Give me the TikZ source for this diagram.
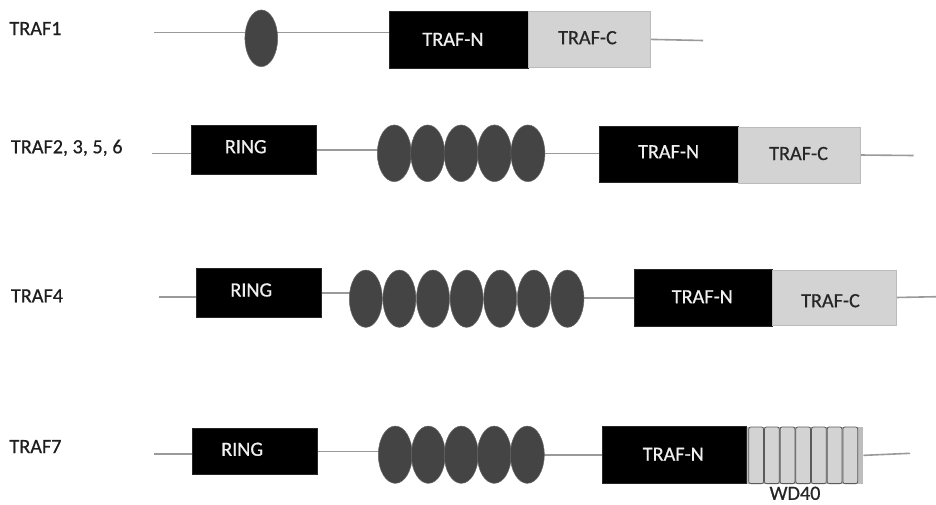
\documentclass[tikz,border=0pt]{standalone}
\usepackage{fontspec}
\setmainfont{Carlito}
\newfontfamily\domainfont{Carlito}[FakeBold=0.6]
\usetikzlibrary{shapes.geometric,backgrounds}

\definecolor{backbone}{HTML}{9A9A9A}
\definecolor{zincfinger}{HTML}{444444}
\definecolor{trafcfill}{HTML}{D3D3D3}
\definecolor{trafcedge}{HTML}{BBBBBB}
\definecolor{wdstrip}{HTML}{BDBDBD}
\definecolor{wdedge}{HTML}{5A5A5A}
\definecolor{labeltext}{HTML}{1E1E1E}

\tikzset{
  every node/.style={inner sep=0pt, outer sep=0pt},
  chain/.style={draw=backbone, line width=1.6pt},
  blackbox/.style={rectangle, draw=black!85, fill=black, line width=0.6pt},
  greybox/.style={rectangle, draw=trafcedge, fill=trafcfill, line width=0.8pt},
  zf/.style={ellipse, draw=zincfinger!80!white, fill=zincfinger, line width=0.5pt},
  wdcell/.style={rectangle, rounded corners=2pt, draw=wdedge, fill=trafcfill, line width=0.8pt},
  txt/.style={font=\domainfont\fontsize{20.2}{24}\selectfont},
  rowlabel/.style={txt, text=labeltext, anchor=base west},
  whitetxt/.style={txt, text=white!94!black, anchor=base},
  darktxt/.style={txt, text=black!85, anchor=base},
}

\begin{document}
\begin{tikzpicture}[x=1pt, y=-1pt]
\useasboundingbox (0,0) rectangle (936,504);

% ---------------- row labels
\node[rowlabel] (l1) at (9.5,35) {TRAF1};
\node[rowlabel] (l2) at (11,153.3) {TRAF2, 3, 5, 6};
\node[rowlabel] (l3) at (11,302.3) {TRAF4};
\node[rowlabel] (l4) at (9.5,453) {TRAF7};

% ---------------- TRAF1
\coordinate (s1) at (154,32.3);
\coordinate (f1) at (703,40.5);
\node[zf, minimum width=32.7, minimum height=56.7] (e11) at (261.3,38.3) {};
\node[blackbox, minimum width=139, minimum height=56.6] (tn1) at (458.8,40) {};
\node[greybox, minimum width=122.4, minimum height=56.7] (tc1) at (589.5,39.4) {};
\node[whitetxt] (tn1t) at (453,45.8) {TRAF-N};
\node[darktxt] (tc1t) at (587.5,44.2) {TRAF-C};

% ---------------- TRAF2, 3, 5, 6
\coordinate (s2) at (151.7,153.3);
\coordinate (f2) at (913.6,155.5);
\node[blackbox, minimum width=125, minimum height=48.6] (r2) at (254.2,150) {};
\foreach \i in {1,...,5}
  \node[zf, minimum width=34, minimum height=56.7] (e2\i) at ({394.3+33.4*(\i-1)},153.3) {};
\node[blackbox, minimum width=138.7, minimum height=56.3] (tn2) at (668.7,154.2) {};
\node[greybox, minimum width=122, minimum height=56] (tc2) at (799,155) {};
\node[whitetxt] (r2t) at (245.8,153.2) {RING};
\node[whitetxt] (tn2t) at (668.6,158.2) {TRAF-N};
\node[darktxt] (tc2t) at (798.6,160) {TRAF-C};

% ---------------- TRAF4
\coordinate (s3) at (159.3,296.7);
\coordinate (f3) at (936,296.7);
\node[blackbox, minimum width=125, minimum height=49] (r3) at (259.2,292.8) {};
\foreach \i in {1,...,7}
  \node[zf, minimum width=33, minimum height=57.3] (e3\i) at ({365.8+33.6*(\i-1)},298.7) {};
\node[blackbox, minimum width=138.4, minimum height=56.5] (tn3) at (703.5,297.8) {};
\node[greybox, minimum width=123.3, minimum height=55] (tc3) at (834.4,297.5) {};
\node[whitetxt] (r3t) at (251.3,296.5) {RING};
\node[whitetxt] (tn3t) at (702.3,303.2) {TRAF-N};
\node[darktxt] (tc3t) at (830.5,307.2) {TRAF-C};

% ---------------- TRAF7
\coordinate (s4) at (154,454);
\coordinate (f4) at (910,453.3);
\node[blackbox, minimum width=125, minimum height=46] (r4) at (254.8,451.3) {};
\foreach \i in {1,...,5}
  \node[zf, minimum width=34, minimum height=57.3] (e4\i) at ({395.3+33*(\i-1)},454.7) {};
\node[blackbox, minimum width=144.4, minimum height=56.6] (tn4) at (674.5,455) {};
\node[rectangle, fill=wdstrip, minimum width=116.6, minimum height=57.3] (wd) at (805,455.35) {};
\foreach \i in {1,...,7}
  \node[wdcell, minimum width=14.8, minimum height=56.6] (w\i) at ({756.1+15.7*(\i-1)},455.3) {};
\node[whitetxt] (r4t) at (242.2,455.8) {RING};
\node[whitetxt] (tn4t) at (673.3,460.7) {TRAF-N};
\node[darktxt] (wdt) at (795,499.8) {WD40};

% ---------------- backbone segments behind the domains
\begin{pgfonlayer}{background}
  \draw[chain] (s1) -- (s1 -| tn1.west);
  \draw[chain] (tc1.east) -- (f1);

  \draw[chain] (s2) -- (s2 -| r2.west);
  \draw[chain] (r2.east) -- (r2.east -| e21.center);
  \draw[chain] (e25.center) -- (e25.center -| tn2.west);
  \draw[chain] (tc2.east) -- (f2);

  \draw[chain] (s3) -- (s3 -| r3.west);
  \draw[chain] (r3.east) -- (r3.east -| e31.center);
  \draw[chain] (e37.center |- tn3.west) -- (tn3.west);
  \draw[chain] (tc3.east) -- (f3);

  \draw[chain] (s4) -- (s4 -| r4.west);
  \draw[chain] (r4.east) -- (r4.east -| e41.center);
  \draw[chain] (e45.center) -- (e45.center -| tn4.west);
  \draw[chain] (wd.east) -- (f4);
\end{pgfonlayer}
\end{tikzpicture}
\end{document}
